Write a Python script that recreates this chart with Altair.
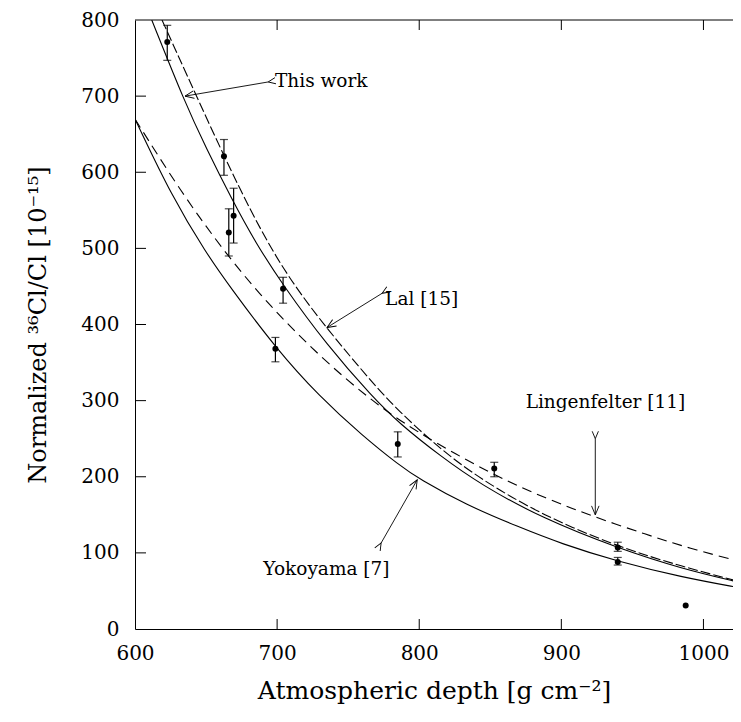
import math
import altair as alt
import pandas as pd

# ---------------- data ----------------
# "This work" (solid)
tw_x = [611.8, 635, 650, 668, 685, 704, 735, 767, 786, 815, 843, 887, 940, 985, 1026]
tw_y = [800, 692, 632, 565, 507, 452, 373, 305, 270, 227, 190, 145, 106, 79, 61]
# Lal [15] (dashed)
lal_x = [619, 642, 674, 704, 737, 765, 785, 815, 843, 887, 940, 985, 1026]
lal_y = [800, 705, 575, 470, 390, 328, 287, 236, 197, 149, 108, 82, 62]
# Lingenfelter [11] (dashed)
lin_x = [600, 632, 665, 695, 730, 765, 796, 852, 890, 922, 960, 990, 1026]
lin_y = [670, 575, 490, 424, 358, 302, 261, 202, 171, 148, 124, 106, 88.6]
# Yokoyama [7] (solid)
yok_x = [600, 626, 650, 667, 699, 730, 760, 786, 800, 833, 870, 900, 939, 985, 1026]
yok_y = [670, 568, 494, 449, 369, 305, 254, 215, 197, 163, 134, 112, 89, 68, 54]

# measured points with error bars
pt_x = [622.7, 662.6, 666.0, 669.4, 704.2, 698.8, 784.9, 852.8, 939.7, 939.7, 987.5]
pt_y = [771, 621, 521, 543, 447, 368, 243, 211, 107, 88, 31]
pt_lo = [747, 596, 490, 507, 428, 351, 226, 200, 102, 84, None]
pt_hi = [793, 643, 552, 579, 462, 383, 259, 219, 114, 94, None]

# annotations
ann_text = ["This work", "Lal [15]", "Lingenfelter [11]", "Yokoyama [7]"]
ann_tx = [698.5, 776.0, 874.9, 690.3]
ann_ty = [720, 433, 298, 79]
arr_x0 = [693.7, 773.9, 923.9, 773.2]
arr_y0 = [718.6, 441, 250, 113]
arr_x1 = [635.2, 735.1, 923.9, 798.6]
arr_y1 = [700, 396, 150, 196]

x_ticks = [600, 700, 800, 900, 1000]
y_ticks = [0, 100, 200, 300, 400, 500, 600, 700, 800]

# ---------------- layout ----------------
X_MIN, X_MAX = 600, 1020.8
W, H = 598, 609
FONT = "DejaVu Serif"
sx = W / (X_MAX - X_MIN)
sy = H / 800.0

xs = alt.Scale(domain=[X_MIN, X_MAX], nice=False, zero=False)
ys = alt.Scale(domain=[0, 800], nice=False, zero=False)
xaxis = alt.Axis(values=x_ticks, format="d", ticks=False, grid=False, domainColor="black",
                 labelFont=FONT, labelFontSize=20, labelColor="black", labelPadding=14,
                 labelFlush=False,
                 title="Atmospheric depth [g cm⁻²]", titleFont=FONT, titleFontSize=25,
                 titleFontWeight="normal", titleColor="black", titlePadding=15)
yaxis = alt.Axis(values=y_ticks, format="d", ticks=False, grid=False, domainColor="black",
                 labelFont=FONT, labelFontSize=20, labelColor="black", labelPadding=16,
                 labelFlush=False,
                 title="Normalized ³⁶Cl/Cl [10⁻¹⁵]", titleFont=FONT, titleFontSize=24,
                 titleFontWeight="normal", titleColor="black", titlePadding=30)


def X(f):
    return alt.X(f, type="quantitative", scale=xs, axis=xaxis)


def Y(f):
    return alt.Y(f, type="quantitative", scale=ys, axis=yaxis)


def curve(xv, yv, dash=None):
    df = pd.DataFrame({"x": xv, "y": yv})
    kw = dict(color="black", strokeWidth=1.1, interpolate="basis", clip=True)
    if dash:
        kw["strokeDash"] = dash
    return alt.Chart(df).mark_line(**kw).encode(x=X("x"), y=Y("y"), order="x:Q")


layers = [
    curve(tw_x, tw_y),
    curve(lal_x, lal_y, [10, 3]),
    curve(lin_x, lin_y, [10, 6]),
    curve(yok_x, yok_y),
]

pts = pd.DataFrame({"x": pt_x, "y": pt_y, "lo": pt_lo, "hi": pt_hi})
err = pts.dropna()
layers.append(alt.Chart(err).mark_rule(color="black", strokeWidth=1.2).encode(
    x=X("x"), y=Y("lo"), y2="hi"))
layers.append(alt.Chart(err).mark_point(shape="stroke", size=64, color="black", strokeWidth=1.2).encode(
    x=X("x"), y=Y("lo")))
layers.append(alt.Chart(err).mark_point(shape="stroke", size=64, color="black", strokeWidth=1.2).encode(
    x=X("x"), y=Y("hi")))
layers.append(alt.Chart(pts).mark_circle(size=36, color="black", opacity=1).encode(
    x=X("x"), y=Y("y")))

# annotations
ang = []
for a, b, c, d in zip(arr_x0, arr_y0, arr_x1, arr_y1):
    dxp = (c - a) * sx
    dyp = -(d - b) * sy
    ang.append(math.degrees(math.atan2(dxp, -dyp)) % 360)
ann = pd.DataFrame({"t": ann_text, "tx": ann_tx, "ty": ann_ty,
                    "x0": arr_x0, "y0": arr_y0, "x1": arr_x1, "y1": arr_y1, "ang": ang})
layers.append(alt.Chart(ann).mark_text(align="left", baseline="middle", font=FONT,
                                       fontSize=18.5, color="black").encode(
    x=X("tx"), y=Y("ty"), text="t:N"))
layers.append(alt.Chart(ann).mark_rule(color="black", strokeWidth=0.9).encode(
    x=X("x0"), y=Y("y0"), x2="x1", y2="y1"))
VPATH = "M-0.42,1L0,0L0.42,1"
layers.append(alt.Chart(ann).mark_point(shape=VPATH, filled=False, size=320, color="black",
                                        strokeWidth=0.9, opacity=1).encode(
    x=X("x1"), y=Y("y1"), angle=alt.Angle("ang:Q", scale=None)))
layers.append(alt.Chart(ann).mark_point(shape=VPATH, filled=False, size=220, color="black",
                                        strokeWidth=0.9, opacity=1).encode(
    x=X("x0"), y=Y("y0"), angle=alt.Angle("ang:Q", scale=None)))

# frame: top line and inward ticks
frame = pd.DataFrame({"v": [0]})
layers.append(alt.Chart(frame).mark_rule(color="black", strokeWidth=1).encode(y=alt.value(0)))
xt = pd.DataFrame({"t": [700, 800, 900, 1000]})
layers.append(alt.Chart(xt).mark_rule(color="black", strokeWidth=1).encode(
    x=X("t"), y=alt.value(H), y2=alt.value(H - 10)))
layers.append(alt.Chart(xt).mark_rule(color="black", strokeWidth=1).encode(
    x=X("t"), y=alt.value(0), y2=alt.value(10)))
yt = pd.DataFrame({"t": [100, 200, 300, 400, 500, 600, 700]})
layers.append(alt.Chart(yt).mark_rule(color="black", strokeWidth=1).encode(
    y=Y("t"), x=alt.value(0), x2=alt.value(11)))

chart = alt.layer(*layers).properties(
    width=W, height=H,
    autosize=alt.AutoSizeParams(type="none"),
    padding={"left": 127, "top": 12, "right": 0, "bottom": 85},
    background="white",
).configure_view(stroke=None)

chart.save("out.html", embed_options={"renderer": "svg", "actions": False})
